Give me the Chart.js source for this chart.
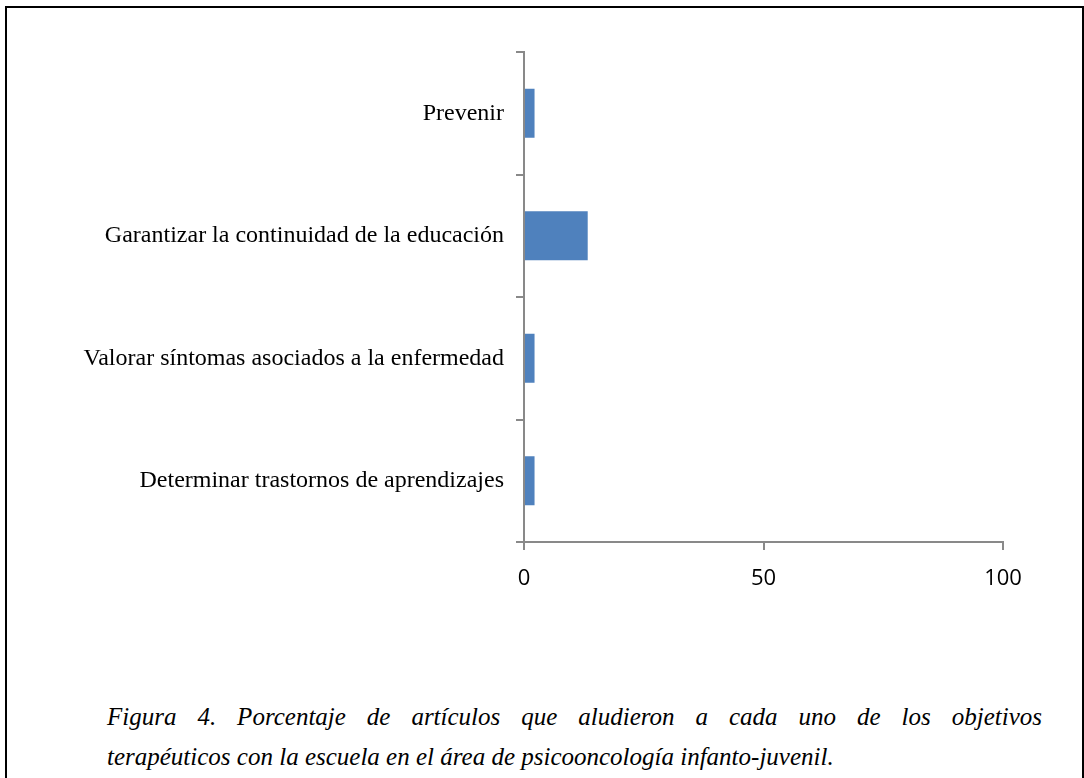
<!DOCTYPE html>
<html lang="es">
<head>
    <meta charset="UTF-8">
    <title>Figura 4</title>
    <script src="https://cdn.jsdelivr.net/npm/chart.js"></script>
    <style>
        body { margin: 0; background: #fff; width: 1084px; height: 778px; overflow: hidden; position: relative; }
        #marco { position: absolute; left: 5px; top: 6px; width: 1075px; height: 800px; border: 2px solid #000; border-bottom: none; }
        #grafico { position: absolute; left: 0; top: 0; }
        #leyenda { position: absolute; left: 107px; width: 935px; top: 697px; font: italic 25px "Liberation Serif", "Times New Roman", serif; line-height: 40px; color: #000; }
        #leyenda .l1 { text-align: justify; text-align-last: justify; white-space: nowrap; }
    </style>
</head>
<body>
    <div id="marco"></div>
    <canvas id="grafico" width="1084" height="610"></canvas>
    <div id="leyenda">
        <div class="l1">Figura 4. Porcentaje de artículos que aludieron a cada uno de los objetivos</div>
        <div>terapéuticos con la escuela en el área de psicooncología infanto-juvenil.</div>
    </div>

    <script>
        const categorias = [
            'Prevenir',
            'Garantizar la continuidad de la educación',
            'Valorar síntomas asociados a la enfermedad',
            'Determinar trastornos de aprendizajes'
        ];
        const porcentajes = [2.2, 13.3, 2.2, 2.2];
        const ticksX = [0, 50, 100];

        const gris = '#898989';

        const ctx = document.getElementById('grafico').getContext('2d');
        new Chart(ctx, {
            type: 'bar',
            data: {
                labels: categorias,
                datasets: [{
                    data: porcentajes,
                    backgroundColor: '#4F81BD',
                    borderWidth: 0,
                    barPercentage: 1,
                    categoryPercentage: 0.4
                }]
            },
            options: {
                indexAxis: 'y',
                responsive: false,
                animation: false,
                layout: { padding: { top: 52, right: 81, left: 0, bottom: 0 } },
                plugins: { legend: { display: false }, tooltip: { enabled: false } },
                scales: {
                    y: {
                        afterFit: (scale) => { scale.width = 524; },
                        grid: { drawOnChartArea: false, color: gris, lineWidth: 2, tickLength: 8 },
                        border: { color: gris, width: 2 },
                        ticks: {
                            color: '#000',
                            padding: 12,
                            font: { family: '"Liberation Serif", "Times New Roman", serif', size: 24 }
                        }
                    },
                    x: {
                        min: ticksX[0],
                        max: ticksX[ticksX.length - 1],
                        afterFit: (scale) => { scale.height = 68; },
                        afterBuildTicks: (scale) => { scale.ticks = ticksX.map(v => ({ value: v })); },
                        grid: { drawOnChartArea: false, color: gris, lineWidth: 2, tickLength: 8 },
                        border: { color: gris, width: 2 },
                        ticks: {
                            color: '#000',
                            padding: 16,
                            font: { family: '"Open Sans", sans-serif', size: 22 }
                        }
                    }
                }
            }
        });
    </script>
</body>
</html>
